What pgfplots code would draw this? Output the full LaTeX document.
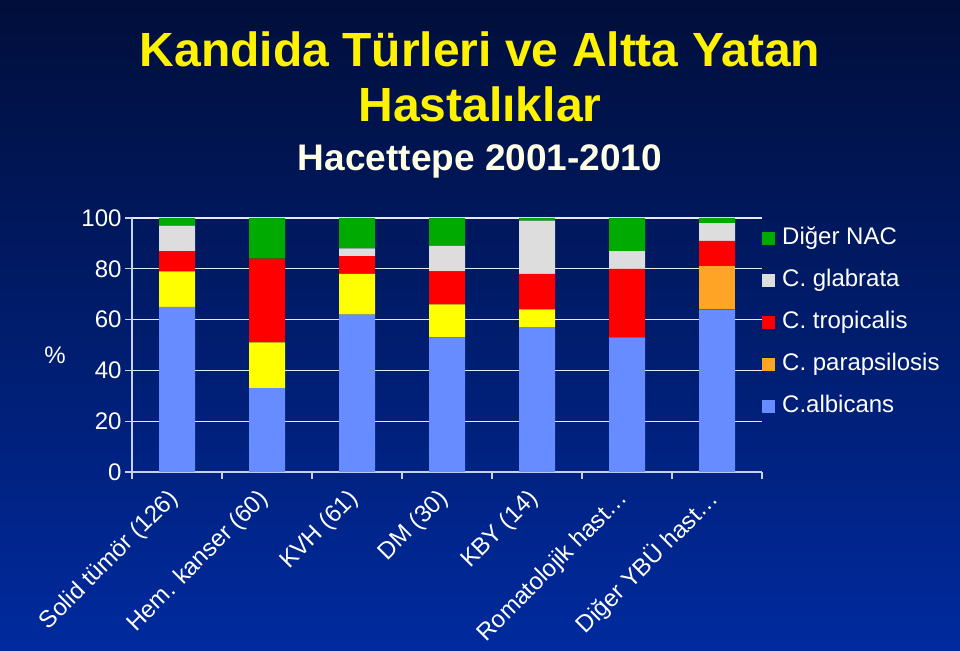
\documentclass[border=0pt]{standalone}
\usepackage{pgfplots}
\pgfplotsset{compat=1.18}
\usepackage{fontspec}
\setmainfont{Liberation Sans}
\definecolor{bgtop}{HTML}{000E3A}
\definecolor{bgbot}{HTML}{002A9E}
\definecolor{subt}{HTML}{FFFFE6}
\definecolor{axcol}{HTML}{C8D2F0}
\definecolor{gridcol}{HTML}{E6EAF6}
\definecolor{calb}{HTML}{668CFF}
\definecolor{cpara}{HTML}{FFA424}
\definecolor{cyel}{HTML}{FFFF00}
\definecolor{ctrop}{HTML}{FF0000}
\definecolor{cglab}{HTML}{DDDDDD}
\definecolor{cnac}{HTML}{00AA00}
\pgfplotsset{sqleg/.style={legend image code/.code={\fill[##1,draw=none] (0pt,-6.5pt) rectangle (13pt,6.5pt);}}}
\begin{document}
\begin{tikzpicture}[x=1pt,y=1pt]
\shade[top color=bgtop, bottom color=bgbot] (0,0) rectangle (960,650);
\node[anchor=base, text=yellow, font=\fontsize{48}{56}\selectfont\bfseries, inner sep=0pt] at (480,583) {Kandida Türleri ve Altta Yatan};
\node[anchor=base, text=yellow, font=\fontsize{48}{56}\selectfont\bfseries, inner sep=0pt] at (480,528) {Hastalıklar};
\node[anchor=base, text=subt, font=\fontsize{37}{44}\selectfont\bfseries, inner sep=0pt] at (480,479) {Hacettepe 2001-2010};
\node[text=white, font=\fontsize{24}{28}\selectfont] at (55,295) {\%};
\begin{axis}[
  at={(132pt,178pt)}, anchor=south west,
  scale only axis, width=630pt, height=254pt,
  ybar stacked, bar width=36pt,
  xmin=-0.5, xmax=6.5, ymin=0, ymax=100,
  axis x line*=bottom, axis y line*=left,
  axis line style={-, draw=axcol, line width=1.2pt},
  ymajorgrids, grid style={draw=gridcol, line width=1.2pt},
  ytick={0,20,...,100},
  tick align=outside, major tick length=7pt,
  tick style={draw=axcol, line width=1.2pt},
  yticklabel style={text=white, font=\fontsize{24}{28}\selectfont},
  /pgf/number format/assume math mode=true,
  xtick={0,...,6},
  xtick style={draw=none},
  xticklabels={Solid tümör (126),Hem. kanser (60),KVH (61),DM (30),KBY (14),Romatolojik hast…,Diğer YBÜ hast…},
  xticklabel style={text=white, font=\fontsize{24}{28}\selectfont, rotate=45, anchor=east},
  xticklabel shift=14pt,
  extra x ticks={-0.5,0.5,...,6.5},
  extra x tick labels={},
  extra x tick style={grid=none, xtick style={draw=axcol, line width=1.2pt}},
  reverse legend,
  legend cell align=left,
  legend style={at={(1,1)}, anchor=north west, yshift=-9.6pt, draw=none, fill=none,
    text=white, font=\fontsize{24}{28}\selectfont, inner sep=0pt, row sep=20pt,
    nodes={inner sep=0pt, text height=17pt, text depth=5pt}, column sep=7pt},
]
\addplot[fill=calb, draw=none, sqleg] coordinates {(0,65) (1,33) (2,62) (3,53) (4,57) (5,53) (6,64)};
\addlegendentry{C.albicans}
\addplot[fill=cpara, draw=none, sqleg] coordinates {(0,0) (1,0) (2,0) (3,0) (4,0) (5,0) (6,17)};
\addlegendentry{C. parapsilosis}
\addplot[fill=cyel, draw=none, forget plot] coordinates {(0,14) (1,18) (2,16) (3,13) (4,7) (5,0) (6,0)};
\addplot[fill=ctrop, draw=none, sqleg] coordinates {(0,8) (1,33) (2,7) (3,13) (4,14) (5,27) (6,10)};
\addlegendentry{C. tropicalis}
\addplot[fill=cglab, draw=none, sqleg] coordinates {(0,10) (1,0) (2,3) (3,10) (4,21) (5,7) (6,7)};
\addlegendentry{C. glabrata}
\addplot[fill=cnac, draw=none, sqleg] coordinates {(0,3) (1,16) (2,12) (3,11) (4,1) (5,13) (6,2)};
\addlegendentry{Diğer NAC}
\end{axis}
\end{tikzpicture}
\end{document}
